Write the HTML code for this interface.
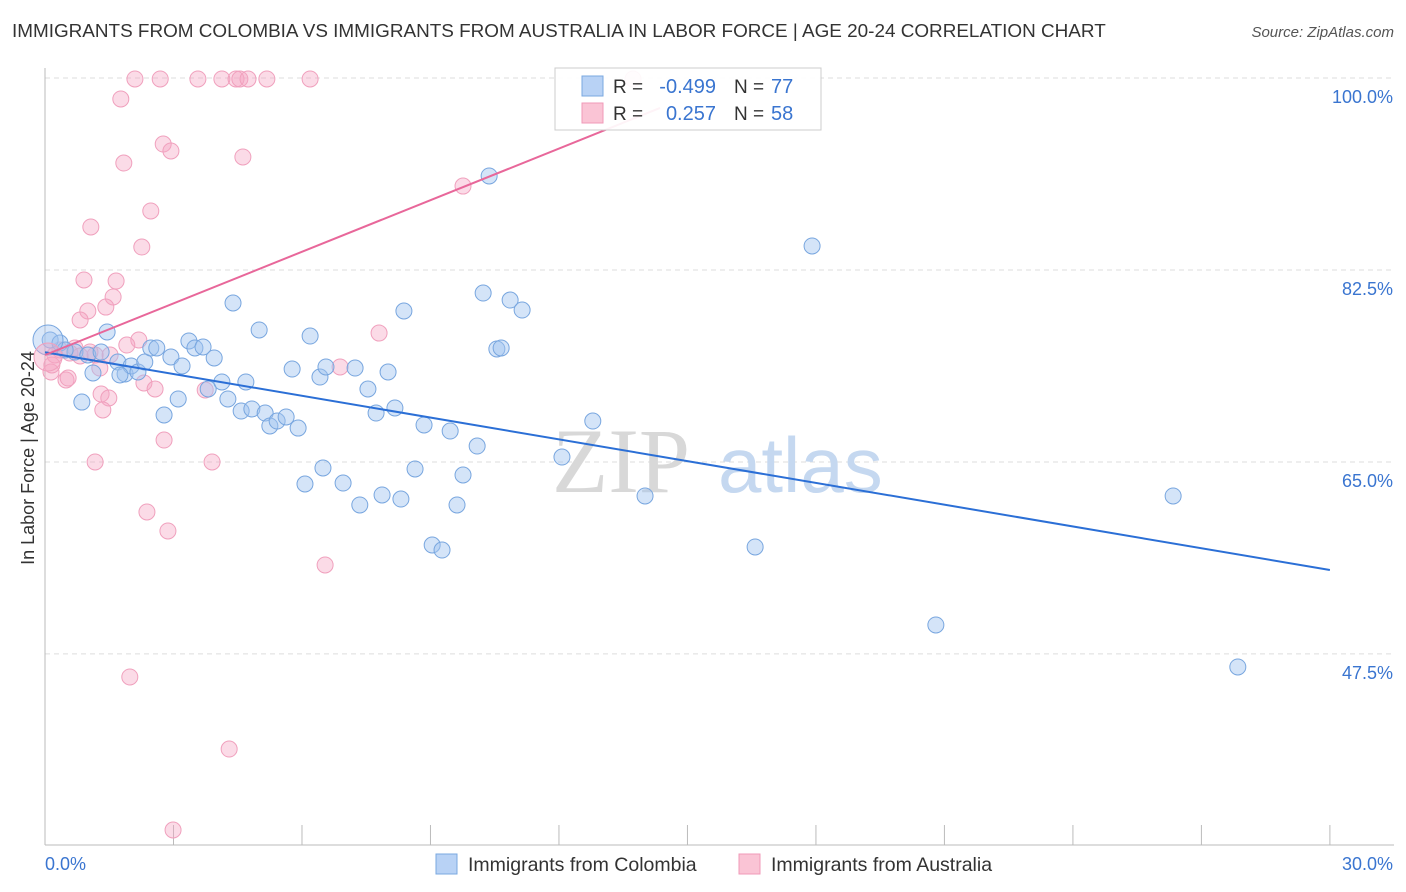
<!DOCTYPE html>
<html><head><meta charset="utf-8">
<style>
body{margin:0;background:#fff;font-family:"Liberation Sans",sans-serif;}
#wrap{position:relative;width:1406px;height:892px;overflow:hidden;}
.t{position:absolute;white-space:nowrap;}
</style></head><body>
<div id="wrap">
<div class="t" style="left:12px;top:21px;font-size:18.9px;color:#333;">IMMIGRANTS FROM COLOMBIA VS IMMIGRANTS FROM AUSTRALIA IN LABOR FORCE | AGE 20-24 CORRELATION CHART</div>
<div class="t" style="right:12px;top:24px;font-size:15px;color:#555;font-style:italic;">Source: ZipAtlas.com</div>
<svg id="svg" width="1406" height="892" style="position:absolute;left:0;top:0"></svg>
</div>
<script>
const yTicks=[100,82.5,65,47.5];
const xLabels=["0.0%","30.0%"];
const blueX=[],blueY=[],pinkX=[],pinkY=[];
const bluePx=[[50,340],[60,343],[75,352],[88,355],[101,352],[107,332],[118,362],[93,373],[82,402],[125,374],[131,366],[138,372],[145,362],[151,348],[157,348],[164,415],[171,357],[178,399],[182,366],[189,341],[195,348],[203,347],[208,389],[214,358],[222,382],[228,399],[233,303],[241,411],[246,382],[252,409],[259,330],[265,413],[270,426],[277,421],[286,417],[292,369],[298,428],[305,484],[310,336],[320,377],[323,468],[326,367],[343,483],[355,368],[360,505],[368,389],[376,413],[382,495],[388,372],[395,408],[401,499],[404,311],[415,469],[424,425],[432,545],[442,550],[450,431],[457,505],[463,475],[477,446],[483,293],[489,176],[497,349],[501,348],[510,300],[522,310],[562,457],[593,421],[645,496],[755,547],[812,246],[936,625],[1173,496],[1238,667],[65,350],[120,375]];
const pinkPx=[[135,79],[160,79],[198,79],[222,79],[236,79],[240,79],[248,79],[267,79],[310,79],[121,99],[163,144],[171,151],[243,157],[124,163],[151,211],[91,227],[142,247],[84,280],[116,281],[113,297],[106,307],[88,311],[80,320],[139,340],[127,345],[110,355],[95,355],[70,353],[55,355],[51,372],[66,380],[68,378],[101,394],[109,398],[103,410],[144,383],[155,389],[164,440],[95,462],[212,462],[147,512],[168,531],[205,390],[130,677],[229,749],[173,830],[325,565],[340,367],[379,333],[463,186],[633,79],[60,350],[75,348],[100,368],[80,356],[52,365],[90,352]];
bluePx.forEach(p=>{blueX.push(+((p[0]-45)/42.83).toFixed(2));blueY.push(+(100-(p[1]-78)/10.97).toFixed(2));});
pinkPx.forEach(p=>{pinkX.push(+((p[0]-45)/42.83).toFixed(2));pinkY.push(+(100-(p[1]-78)/10.97).toFixed(2));});
const blueTrend=[[0,75.0],[30,55.15]];
const pinkTrend=[[0,74.75],[14.36,97.27]];
const sx=v=>45+v*42.83, sy=v=>78+(100-v)*10.97;
const svg=document.getElementById('svg');const NS='http://www.w3.org/2000/svg';
function mk(tag,a,parent){const e=document.createElementNS(NS,tag);for(const k in a)e.setAttribute(k,a[k]);(parent||svg).appendChild(e);return e;}
yTicks.forEach(v=>{
 const l=mk('line',{x1:45,x2:1394,y1:sy(v),y2:sy(v),stroke:'#ddd','stroke-dasharray':'5,4'});
 
 
 const t=mk('text',{x:1393,y:sy(v)+25,'text-anchor':'end','font-size':18,fill:'#3a75d0','font-family':'Liberation Sans'});
 t.textContent=v.toFixed(1)+'%';
 
 
});
mk('line',{x1:45,x2:45,y1:68,y2:845,stroke:'#bbb'});
mk('line',{x1:45,x2:1394,y1:845,y2:845,stroke:'#bbb'});
for(let i=0;i<=10;i++){const l=mk('line',{x1:sx(i*3),x2:sx(i*3),y1:825,y2:845,stroke:'#bbb'});
 
 }
[[45,'start',xLabels[0]],[1393,'end',xLabels[1]]].forEach(a=>{const t=mk('text',{x:a[0],y:870,'text-anchor':a[1],'font-size':18,fill:'#3a75d0','font-family':'Liberation Sans'});t.textContent=a[2];
 
 });
const yt=mk('text',{x:0,y:0,transform:'translate(34,458) rotate(-90)','text-anchor':'middle','font-size':18,fill:'#333','font-family':'Liberation Sans'});yt.textContent='In Labor Force | Age 20-24';


const w=mk('text',{x:552,y:492,'font-size':92,fill:'#d8d8d8','font-family':'Liberation Serif'});w.textContent='ZIP';


const w2=mk('text',{x:718,y:492,'font-size':78,fill:'#c5d8f0','font-family':'Liberation Sans'});w2.textContent='atlas';


function pts(X,Y,fill,stroke,name){X.forEach((x,i)=>{const c=mk('circle',{cx:sx(x),cy:sy(Y[i]),r:8,fill:fill,stroke:stroke,'stroke-width':1});
 
 });}
pts(pinkX,pinkY,'rgba(245,165,195,0.4)','#f0a0bd','australia-point');
pts(blueX,blueY,'rgba(160,196,240,0.45)','#78a6df','colombia-point');
mk('circle',{cx:48,cy:340,r:15,fill:'rgba(160,196,240,0.4)',stroke:'#78a6df'});
mk('circle',{cx:48,cy:357,r:14,fill:'rgba(245,165,195,0.4)',stroke:'#f0a0bd'});
const bl=mk('line',{x1:sx(blueTrend[0][0]),y1:sy(blueTrend[0][1]),x2:sx(blueTrend[1][0]),y2:sy(blueTrend[1][1]),stroke:'#2b6fd6','stroke-width':2});


const pl=mk('line',{x1:sx(pinkTrend[0][0]),y1:sy(pinkTrend[0][1]),x2:sx(pinkTrend[1][0]),y2:sy(pinkTrend[1][1]),stroke:'#e8679a','stroke-width':2});


const g=mk('g',{});


mk('rect',{x:555,y:68,width:266,height:62,fill:'rgba(255,255,255,0.92)',stroke:'#ccc'},g);
mk('rect',{x:582,y:76,width:21,height:20,fill:'#b8d2f5',stroke:'#7aa8e0'},g);
mk('rect',{x:582,y:103,width:21,height:20,fill:'#fac4d5',stroke:'#f09ab8'},g);
[[93,'-0.499','77'],[120,'0.257','58']].forEach((r,i)=>{
 const a=mk('text',{x:613,y:r[0],'font-size':19,fill:'#333','font-family':'Liberation Sans'},g);a.textContent='R =';
 const b=mk('text',{x:716,y:r[0],'text-anchor':'end','font-size':20,fill:'#3a75d0','font-family':'Liberation Sans'},g);b.textContent=r[1];
 const c=mk('text',{x:734,y:r[0],'font-size':19,fill:'#333','font-family':'Liberation Sans'},g);c.textContent='N =';
 const d=mk('text',{x:771,y:r[0],'font-size':20,fill:'#3a75d0','font-family':'Liberation Sans'},g);d.textContent=r[2];
});
const g2=mk('g',{});


mk('rect',{x:436,y:854,width:21,height:20,fill:'#b8d2f5',stroke:'#7aa8e0'},g2);
mk('rect',{x:739,y:854,width:21,height:20,fill:'#fac4d5',stroke:'#f09ab8'},g2);
const l1=mk('text',{x:468,y:871,'font-size':19.5,fill:'#333','font-family':'Liberation Sans'},g2);l1.textContent='Immigrants from Colombia';
const l2=mk('text',{x:771,y:871,'font-size':19.5,fill:'#333','font-family':'Liberation Sans'},g2);l2.textContent='Immigrants from Australia';
</script>
</body></html>
